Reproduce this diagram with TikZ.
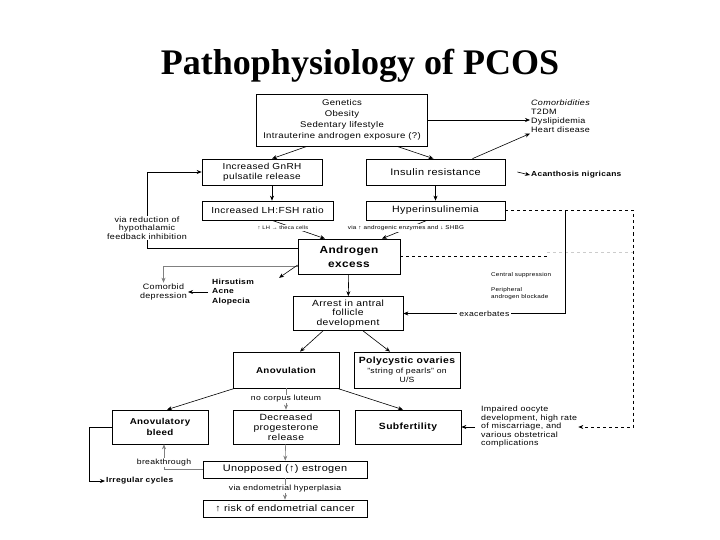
\documentclass[tikz,border=0pt]{standalone}
\usepackage{fontspec}
\setmainfont{Liberation Sans}[FakeStretch=1.15, LetterSpace=4]
\newfontfamily\titlefont{Liberation Serif}
\usetikzlibrary{positioning}
\usetikzlibrary{calc}
\usetikzlibrary{arrows.meta}

\begin{document}
\begin{tikzpicture}[x=1pt, y=-1pt,
  box/.style={rectangle, draw, line width=0.7pt, inner sep=1pt, align=center, font=\fontsize{9.5}{10}\selectfont},
  boldbox/.style={box, font=\bfseries\fontsize{8.5}{10.5}\selectfont},
  note/.style={inner sep=1pt, align=left, font=\fontsize{7.8}{9}\selectfont},
  tag/.style={fill=white, inner sep=1pt, text=black, font=\fontsize{7.5}{8.5}\selectfont},
  arrow/.style={-{Stealth[length=5pt, width=4pt]}, line width=0.6pt}
]
  \fill[white] (0,0) rectangle (720,540);
  \useasboundingbox (0,0) rectangle (720,540);

  % Title
  \node[anchor=base, font=\titlefont\bfseries\fontsize{36}{40}\selectfont] (title) at (360,75) {Pathophysiology of PCOS};

  % Boxes
  \node[box, minimum width=171pt, minimum height=52pt, font=\fontsize{8.3}{11}\selectfont] (causes) at (342,120) {Genetics\\Obesity\\Sedentary lifestyle\\Intrauterine androgen exposure (?)};
  \node[box, minimum width=120pt, minimum height=26pt, font=\fontsize{8.7}{10}\selectfont] (gnrh) at (262,172) {Increased GnRH\\pulsatile release};
  \node[box, minimum width=139pt, minimum height=26pt] (insres) at (435.5,172) {Insulin resistance};
  \node[box, minimum width=131pt, minimum height=19pt, font=\fontsize{8.8}{10}\selectfont] (lhfsh) at (267.5,210.5) {Increased LH:FSH ratio};
  \node[box, minimum width=139pt, minimum height=19pt, font=\fontsize{9.2}{10}\selectfont] (hyper) at (435.5,210.5) {Hyperinsulinemia};
  \node[box, minimum width=102pt, minimum height=35pt, font=\bfseries\fontsize{10.3}{14}\selectfont] (andro) at (349,256.5) {Androgen\\excess};
  \node[box, minimum width=110pt, minimum height=34pt, font=\fontsize{9}{9.8}\selectfont] (arrest) at (348,313.5) {Arrest in antral\\follicle\\development};
  \node[boldbox, minimum width=106pt, minimum height=36pt] (anov) at (286,370) {Anovulation};
  \node[box, minimum width=106pt, minimum height=36pt, font=\fontsize{7.5}{9.5}\selectfont] (poly) at (407,370) {{\bfseries\fontsize{9}{10}\selectfont Polycystic ovaries}\\"string of pearls" on\\U/S};
  \node[boldbox, minimum width=96pt, minimum height=34pt] (bleed) at (160,427) {Anovulatory\\bleed};
  \node[box, minimum width=106pt, minimum height=34pt, font=\fontsize{9}{9.8}\selectfont] (decr) at (286,427) {Decreased\\progesterone\\release};
  \node[boldbox, minimum width=106pt, minimum height=34pt, font=\bfseries\fontsize{9}{10}\selectfont] (subf) at (408,427) {Subfertility};
  \node[box, minimum width=164pt, minimum height=17pt] (unop) at (285,469.5) {Unopposed (↑) estrogen};
  \node[box, minimum width=164pt, minimum height=17pt, font=\fontsize{9.3}{10}\selectfont] (risk) at (285,508.5) {↑ risk of endometrial cancer};

  % Side texts
  \node[note, anchor=west] (comorb) at (530,116) {\textit{Comorbidities}\\T2DM\\Dyslipidemia\\Heart disease};
  \node[note, anchor=west, font=\bfseries\fontsize{7.3}{8.5}\selectfont] (acan) at (530,175) {Acanthosis nigricans};
  \node[note, anchor=west, font=\fontsize{5.5}{7}\selectfont] (central) at (490,275) {Central suppression};
  \node[note, anchor=west, font=\fontsize{5.5}{7}\selectfont] (periph) at (490,294) {Peripheral\\androgen blockade};
  \node[note, anchor=west, font=\bfseries\fontsize{7.4}{9.5}\selectfont] (hirs) at (211,292) {Hirsutism\\Acne\\Alopecia};
  \node[note, align=center] (depr) at (163.5,292) {Comorbid\\depression};
  \node[note, anchor=west, font=\fontsize{7.7}{8.5}\selectfont] (impair) at (480,427) {Impaired oocyte\\development, high rate\\of miscarriage, and\\various obstetrical\\complications};
  \node[note, anchor=west, font=\bfseries\fontsize{7.4}{8.5}\selectfont] (irreg) at (105,481) {Irregular cycles};

  % Arrows
  \draw[arrow] ([xshift=-35pt]causes.south) -- ([xshift=10pt]gnrh.north);
  \draw[arrow] ([xshift=55pt]causes.south) -- ([xshift=-2pt]insres.north);
  \draw[arrow] (causes.east) -- (causes.east -| comorb.west);
  \draw[arrow] ([xshift=37pt]insres.north) -- (comorb.south west);
  \draw[arrow] ([xshift=12pt]insres.east) -- (acan.west);
  \draw[arrow] ([xshift=10pt]gnrh.south) -- ([xshift=10pt]gnrh.south |- lhfsh.north);
  \draw[arrow] (insres) -- (hyper);
  \draw[arrow] ([xshift=4.5pt]lhfsh.south) -- ([xshift=-24pt]andro.north);
  \draw[arrow] ([xshift=-8.5pt]hyper.south) -- ([xshift=33pt]andro.north);
  \draw[arrow] ([yshift=8.5pt]andro.west) -- ++(-150,0) |- (gnrh.west);
  \draw[arrow, gray] ([yshift=-9.5pt]andro.west) -| (depr.north);
  \draw[arrow] ([yshift=-8.5pt]andro.west) -- ([xshift=24pt]hirs.north east);
  \draw[arrow, shorten <=3pt] (hirs.west) -- (depr.east);
  \draw[arrow] (andro) -- (arrest);
  \draw[dashed, line width=0.6pt] (andro.east) -- ++(147,0) coordinate (dend);
  \draw[dashed, arrow] (hyper.east) -- ++(128,0) coordinate (rail) |- (impair.east);
  \draw[dashed, gray!40] ([yshift=4pt]dend) -- ([yshift=4pt]dend -| rail);
  \coordinate (tap) at ($(hyper.east)+(60,0)$);
  \draw[line width=1.2pt] (tap) -- (tap |- arrest.east);
  \draw[arrow] (tap |- arrest.east) -- node[tag, inner sep=2pt] {exacerbates} (arrest.east);
  \draw[arrow] ([xshift=-25pt]arrest.south) -- ([xshift=14pt]anov.north);
  \draw[arrow] ([xshift=15pt]arrest.south) -- ([xshift=-17pt]poly.north);
  \draw[arrow] ([xshift=2pt]anov.south west) -- ([xshift=7pt]bleed.north);
  \draw[arrow] ([xshift=-2pt]anov.south east) -- ([xshift=-5pt]subf.north);
  \draw[arrow, gray] (anov) -- node[tag] {no corpus luteum} (decr);
  \draw[arrow, shorten <=5pt] (impair.west) -- (subf.east);
  \draw[arrow, gray] (decr) -- (unop);
  \draw[arrow, gray] (unop.west) -| node[tag, pos=0.64] {breakthrough} ([xshift=4pt]bleed.south);
  \draw[arrow] (bleed.west) -- ++(-22,0) |- (irreg.west);
  \draw[arrow, gray] (unop) -- node[tag] {via endometrial hyperplasia} (risk);

  % Labels
  \node[tag, align=center, font=\fontsize{7.8}{8.5}\selectfont] (fbtag) at (147,228) {via reduction of\\hypothalamic\\feedback inhibition};
  \node[tag, font=\fontsize{5}{6}\selectfont] (lhtag) at (283,228) {↑ LH → theca cells};
  \node[tag, font=\fontsize{5.5}{6}\selectfont] (enztag) at (406,228) {via ↑ androgenic enzymes and ↓ SHBG};
\end{tikzpicture}
\end{document}
